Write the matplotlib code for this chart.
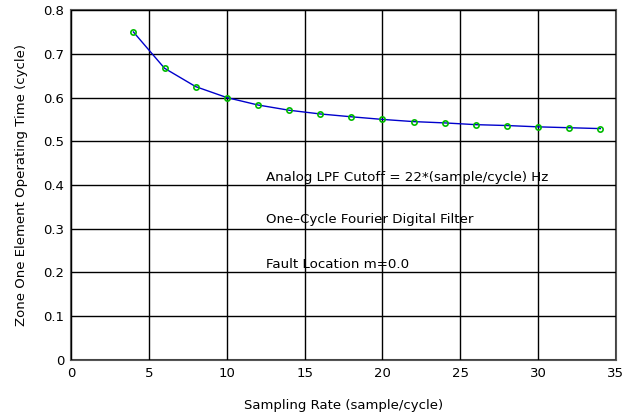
import matplotlib
matplotlib.use('Agg')
import matplotlib.pyplot as plt

# sampling rate (sample/cycle) and zone one operating time (cycle)
sample_rate = [4, 6, 8, 10, 12, 14, 16, 18, 20, 22, 24, 26, 28, 30, 32, 34]
op_time = [0.750, 0.667, 0.625, 0.600, 0.583, 0.571, 0.5625, 0.556,
           0.550, 0.545, 0.542, 0.538, 0.536, 0.533, 0.531, 0.529]

notes = ['Analog LPF Cutoff = 22*(sample/cycle) Hz',
         'One\u2013Cycle Fourier Digital Filter',
         'Fault Location m=0.0']
note_y = [0.418, 0.32, 0.218]

plt.rcParams['font.family'] = 'DejaVu Sans'

fig = plt.figure(figsize=(6.24, 4.2), dpi=100)
ax = fig.add_axes([0.114, 0.143, 0.873, 0.833])

ax.plot(sample_rate, op_time, color='#0000cc', lw=1.0, zorder=3)
ax.plot(sample_rate, op_time, ls='none', marker='o', ms=3.8, mfc='none',
        mec='#00bb00', mew=1.2, zorder=4)

for txt, yy in zip(notes, note_y):
    ax.text(12.5, yy, txt, fontsize=9.6, ha='left', va='center', zorder=1)

ax.set_xlim(0, 35)
ax.set_ylim(0, 0.8)
ax.set_xticks(range(0, 36, 5))
ax.set_yticks([0, 0.1, 0.2, 0.3, 0.4, 0.5, 0.6, 0.7, 0.8])
ax.set_yticklabels(['0', '0.1', '0.2', '0.3', '0.4', '0.5', '0.6', '0.7', '0.8'])
ax.set_axisbelow(False)
ax.grid(True, color='black', lw=1.0)
ax.tick_params(length=0, labelsize=9.5, pad=5)
for s in ax.spines.values():
    s.set_color('#555555')
    s.set_linewidth(1.5)

ax.set_xlabel('Sampling Rate (sample/cycle)', fontsize=9.5, labelpad=14)
ax.set_ylabel('Zone One Element Operating Time (cycle)', fontsize=9.5, labelpad=11)

fig.savefig('out.png', dpi=100)
